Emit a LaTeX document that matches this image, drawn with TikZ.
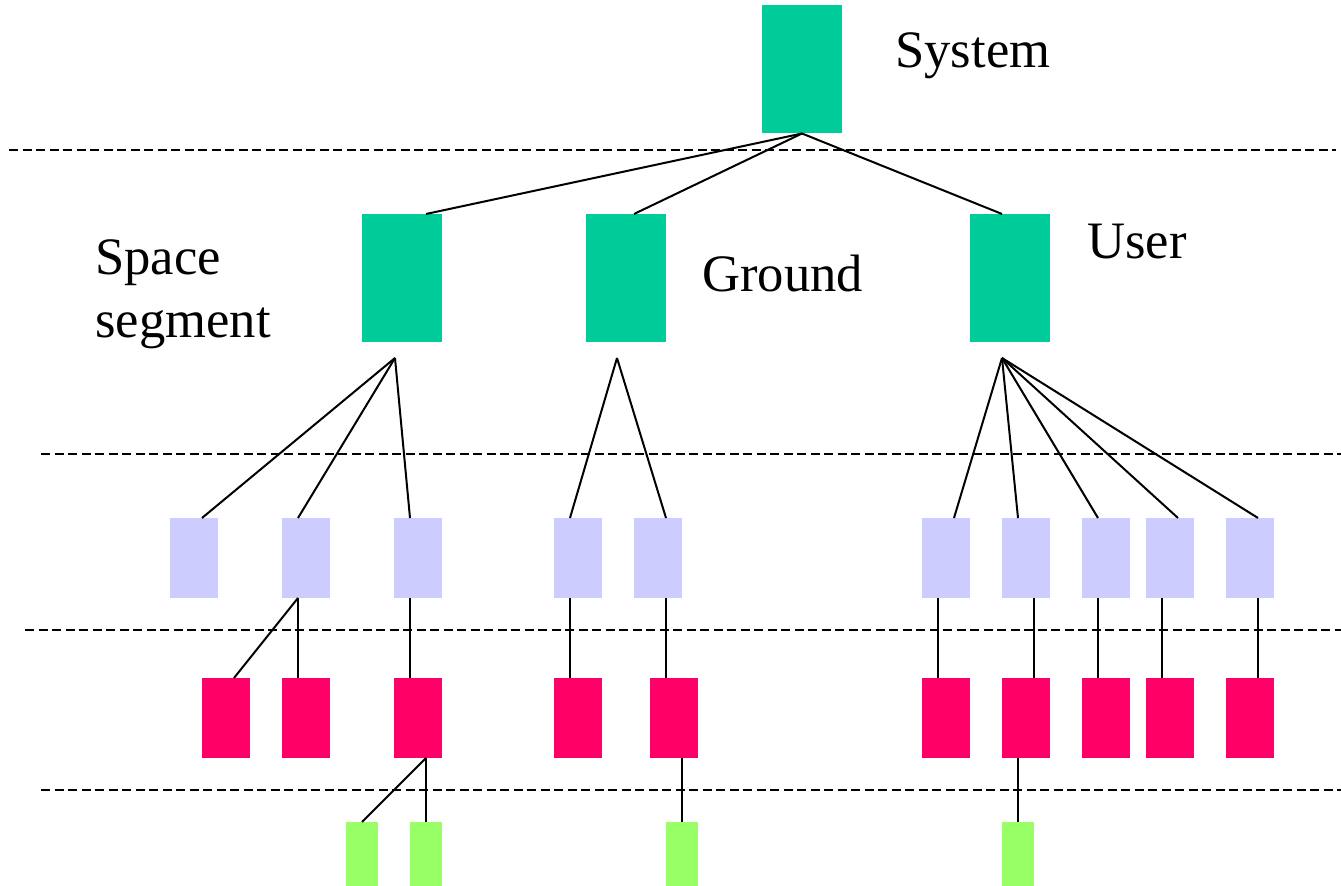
\documentclass[tikz,border=0pt]{standalone}
\usepackage{fontspec}
\setmainfont{Liberation Serif}
\definecolor{sysgreen}{HTML}{00CC99}
\definecolor{sublilac}{HTML}{CCCCFF}
\definecolor{compred}{HTML}{FF0066}
\definecolor{partgreen}{HTML}{99FF66}
\begin{document}
\begin{tikzpicture}[x=0.5pt,y=-0.5pt,
  box/.style={rectangle,inner sep=0pt,outer sep=0pt,draw=none},
  sysbox/.style={box,fill=sysgreen,minimum width=40pt,minimum height=64pt},
  subbox/.style={box,fill=sublilac,minimum width=24pt,minimum height=40pt},
  compbox/.style={box,fill=compred,minimum width=24pt,minimum height=40pt},
  partbox/.style={box,fill=partgreen,minimum width=16pt,minimum height=32pt},
  lbl/.style={anchor=base west,inner sep=0pt,font=\fontsize{26.3}{31.5}\selectfont},
  link/.style={line width=1pt},
  tier/.style={line width=1pt,dash pattern=on 4.5pt off 2.25pt}]
\useasboundingbox (0,0) rectangle (1341,886);
% tiers
\draw[tier] (9,150) -- (1336,150);
\draw[tier] (41,454) -- (1341,454);
\draw[tier] (25,630) -- (1341,630);
\draw[tier] (41,790) -- (1341,790);
% system and segments
\node[sysbox] (system) at (802,69.5) {};
\node[lbl] (systxt) at (895,68) {System};
\node[sysbox] (space) at (402,278) {};
\node[sysbox] (ground) at (626,278) {};
\node[sysbox] (user) at (1010,278) {};
\node[lbl,align=left] (spacetxt) at (95,338) {Space\\segment};
\node[lbl] (groundtxt) at (702,291.5) {Ground};
\node[lbl] (usertxt) at (1087,259) {User};
\coordinate (spacefan) at ([xshift=-3.5pt,yshift=-8pt]space.south);
\coordinate (groundfan) at ([xshift=-4.5pt,yshift=-8pt]ground.south);
\coordinate (userfan) at ([xshift=-4pt,yshift=-8pt]user.south);
% subsystems, components, parts
\foreach \n/\x in {s1/194,s2/306,s3/418,g1/578,g2/658,u1/946,u2/1026,u3/1106,u4/1170,u5/1250}
  \node[subbox] (\n) at (\x,558) {};
\foreach \n/\x in {r1/226,r2/306,r3/418,r4/578,r5/674,r6/946,r7/1026,r8/1106,r9/1170,r10/1250}
  \node[compbox] (\n) at (\x,718) {};
\foreach \n/\x in {p1/362,p2/426,p3/682,p4/1018}
  \node[partbox] (\n) at (\x,854) {};
% links
\draw[link] (system.south) -- ([xshift=12pt]space.north);
\draw[link] (system.south) -- ([xshift=4pt]ground.north);
\draw[link] (system.south) -- ([xshift=-4pt]user.north);
\foreach \n/\d in {s1/4,s2/-4,s3/-4}
  \draw[link] (spacefan) -- ([xshift=\d pt]\n.north);
\foreach \n/\d in {g1/-4,g2/4}
  \draw[link] (groundfan) -- ([xshift=\d pt]\n.north);
\foreach \n/\d in {u1/4,u2/-4,u3/-4,u4/4,u5/4}
  \draw[link] (userfan) -- ([xshift=\d pt]\n.north);
\draw[link] ([xshift=-4pt]s2.south) -- ([xshift=4pt]r1.north);
\draw[link] ([xshift=-4pt]s2.south) -- ([xshift=-4pt]r2.north);
\foreach \a/\b/\d/\e in {s3/r3/-4/-4,g1/r4/-4/-4,g2/r5/4/-4,u1/r6/-4/-4,u2/r7/4/4,u3/r8/-4/-4,u4/r9/-4/-4,u5/r10/4/4}
  \draw[link] ([xshift=\d pt]\a.south) -- ([xshift=\e pt]\b.north);
\draw[link] ([xshift=4pt]r3.south) -- (p1.north);
\draw[link] ([xshift=4pt]r3.south) -- (p2.north);
\draw[link] ([xshift=4pt]r5.south) -- (p3.north);
\draw[link] ([xshift=-4pt]r7.south) -- (p4.north);
\end{tikzpicture}
\end{document}
